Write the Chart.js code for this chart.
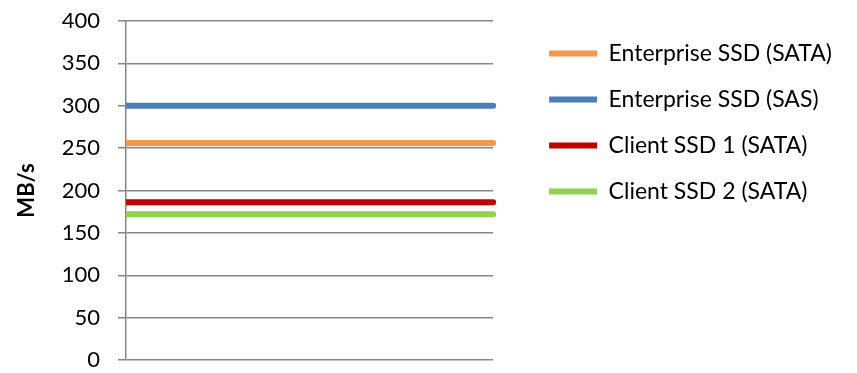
<!DOCTYPE html>
<html>
<head>
<meta charset="utf-8">
<title>SSD write speed</title>
<script src="https://cdn.jsdelivr.net/npm/chart.js@4"></script>
<style>
    html, body { margin: 0; padding: 0; background: #fff; }
    #wrap { width: 857px; height: 373px; }
</style>
</head>
<body>
<div id="wrap"><canvas id="speedChart" width="857" height="373"></canvas></div>
<script>
// data
const categories = ['', ''];
const seriesNames = ['Enterprise SSD (SATA)', 'Enterprise SSD (SAS)', 'Client SSD 1 (SATA)', 'Client SSD 2 (SATA)'];
const enterpriseSata = [256, 256];
const enterpriseSas = [300, 300];
const clientSata1 = [186, 186];
const clientSata2 = [172, 172];
const yTicks = [0, 50, 100, 150, 200, 250, 300, 350, 400];
const lineColors = ['#F79646', '#4A7EBB', '#C00000', '#92D050'];

const gridGray = '#868686';
const fontName = 'Lato';

function makeSet(i, values) {
    return {
        label: seriesNames[i],
        data: values,
        borderColor: lineColors[i],
        backgroundColor: lineColors[i],
        borderWidth: 6,
        borderCapStyle: 'round',
        pointRadius: 0,
        pointHoverRadius: 0,
        fill: false,
        tension: 0,
        clip: { left: 0, right: 4, top: 5, bottom: 5 }
    };
}

const ctx = document.getElementById('speedChart').getContext('2d');
new Chart(ctx, {
    type: 'line',
    data: {
        labels: categories,
        datasets: [
            makeSet(0, enterpriseSata),
            makeSet(1, enterpriseSas),
            makeSet(2, clientSata1),
            makeSet(3, clientSata2)
        ]
    },
    options: {
        responsive: false,
        animation: false,
        devicePixelRatio: 1,
        layout: { padding: { left: 0, top: 19, right: 15, bottom: 13 } },
        plugins: {
            tooltip: { enabled: false },
            legend: {
                position: 'right',
                align: 'start',
                maxWidth: 400,
                labels: {
                    usePointStyle: true,
                    pointStyle: 'line',
                    pointStyleWidth: 48,
                    padding: 23,
                    color: '#000',
                    font: { family: fontName, size: 23 }
                }
            }
        },
        scales: {
            x: {
                position: 'top',
                offset: false,
                grid: { display: false },
                border: { display: false },
                ticks: { display: false },
                afterFit: s => { s.height = 2; }
            },
            y: {
                min: 0,
                max: 400,
                afterBuildTicks: s => { s.ticks = yTicks.map(v => ({ value: v })); },
                afterFit: s => {
                    s.width = 126;
                    // labels may hang over the plot edges, no extra room needed
                    s.paddingTop = 0;
                    s.paddingBottom = 0;
                },
                ticks: {
                    padding: 18,
                    color: '#000',
                    font: { family: fontName, size: 22 }
                },
                grid: { color: gridGray, lineWidth: 1.5, tickLength: 8 },
                border: { color: gridGray, width: 1.5 },
                title: {
                    display: true,
                    text: 'MB/s',
                    color: '#000',
                    padding: { top: 14, bottom: 0 },
                    font: { family: fontName, size: 22, weight: 'bold' }
                }
            },
            yGap: {
                position: 'right',
                display: true,
                grid: { display: false },
                border: { display: false },
                ticks: { display: false },
                afterFit: s => { s.width = 33; }
            }
        }
    }
});
</script>
</body>
</html>
